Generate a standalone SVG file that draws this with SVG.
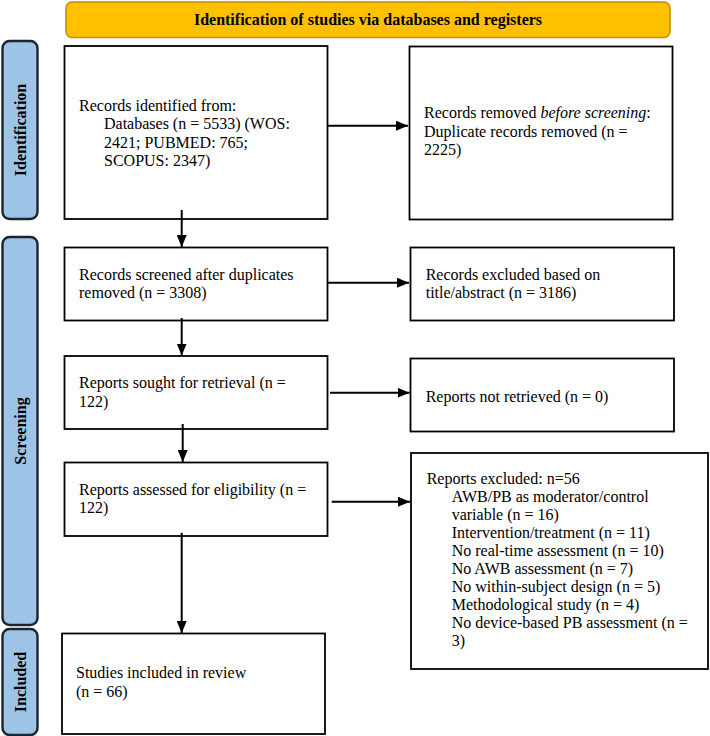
<svg xmlns="http://www.w3.org/2000/svg" width="710" height="736" viewBox="0 0 710 736">
<defs>
<marker id="ah" markerWidth="12" markerHeight="10" refX="12" refY="5" orient="auto" markerUnits="userSpaceOnUse">
<path d="M0,0 L12,5 L0,10 Z" fill="#000"/>
</marker>
<style>
.box{fill:#fff;stroke:#000;stroke-width:1.8}
.side{fill:#9DC3E6;stroke:#1c2430;stroke-width:2.4}
.hdr{fill:#FFC000;stroke:#C09000;stroke-width:1.5}
.t{font-family:"Liberation Serif","Times New Roman",serif;font-size:16px;fill:#000}
.b{font-family:"Liberation Serif","Times New Roman",serif;font-size:16px;font-weight:bold;fill:#000}
.c{stroke:#000;stroke-width:2;fill:none}
</style>
</defs>
<rect width="710" height="736" fill="#fff"/>
<g id="header">
<rect class="hdr" x="66" y="2" width="604" height="35.5" rx="6"/>
<text class="b" x="368" y="25" text-anchor="middle">Identification of studies via databases and registers</text>
</g>
<g id="side-identification">
<rect class="side" x="2.5" y="41" width="35" height="178" rx="7"/>
<text class="b" transform="translate(25.5,130) rotate(-90)" text-anchor="middle">Identification</text>
</g>
<g id="side-screening">
<rect class="side" x="2.5" y="237" width="35" height="388" rx="7"/>
<text class="b" transform="translate(25.5,431) rotate(-90)" text-anchor="middle">Screening</text>
</g>
<g id="side-included">
<rect class="side" x="2.5" y="629" width="35" height="106" rx="7"/>
<text class="b" transform="translate(25.5,682) rotate(-90)" text-anchor="middle">Included</text>
</g>
<g id="records-identified">
<rect class="box" x="64.5" y="46" width="263" height="173"/>
<text class="t" x="79" y="111">Records identified from:</text>
<text class="t" x="104" y="129.3">Databases (n = 5533) (WOS:</text>
<text class="t" x="104" y="147.6">2421; PUBMED: 765;</text>
<text class="t" x="104" y="166">SCOPUS: 2347)</text>
</g>
<g id="records-removed">
<rect class="box" x="409.5" y="46.5" width="263" height="173"/>
<text class="t" x="424" y="118.3">Records removed <tspan font-style="italic">before screening</tspan>:</text>
<text class="t" x="424" y="136.7">Duplicate records removed (n =</text>
<text class="t" x="424" y="155">2225)</text>
</g>
<g id="records-screened">
<rect class="box" x="64.5" y="247.5" width="263" height="73"/>
<text class="t" x="79" y="280">Records screened after duplicates</text>
<text class="t" x="79" y="298.3">removed (n = 3308)</text>
</g>
<g id="records-excluded">
<rect class="box" x="410.5" y="247.5" width="263.5" height="73"/>
<text class="t" x="425.7" y="280">Records excluded based on</text>
<text class="t" x="425.7" y="298.3">title/abstract (n = 3186)</text>
</g>
<g id="reports-sought">
<rect class="box" x="64.5" y="356" width="263" height="73"/>
<text class="t" x="79" y="388.3">Reports sought for retrieval (n =</text>
<text class="t" x="79" y="406.7">122)</text>
</g>
<g id="reports-not-retrieved">
<rect class="box" x="410.5" y="358.5" width="263.5" height="73"/>
<text class="t" x="425.7" y="401.7">Reports not retrieved (n = 0)</text>
</g>
<g id="reports-assessed">
<rect class="box" x="64.5" y="462.5" width="263" height="73.5"/>
<text class="t" x="79" y="495">Reports assessed for eligibility (n =</text>
<text class="t" x="79" y="513.3">122)</text>
</g>
<g id="reports-excluded">
<rect class="box" x="411" y="453" width="297" height="216"/>
<text class="t" x="426.7" y="484">Reports excluded: n=56</text>
<text class="t" x="451.7" y="502">AWB/PB as moderator/control</text>
<text class="t" x="451.7" y="520">variable (n = 16)</text>
<text class="t" x="451.7" y="538">Intervention/treatment (n = 11)</text>
<text class="t" x="451.7" y="556">No real-time assessment (n = 10)</text>
<text class="t" x="451.7" y="574">No AWB assessment (n = 7)</text>
<text class="t" x="451.7" y="592">No within-subject design (n = 5)</text>
<text class="t" x="451.7" y="610">Methodological study (n = 4)</text>
<text class="t" x="451.7" y="628">No device-based PB assessment (n =</text>
<text class="t" x="451.7" y="646">3)</text>
</g>
<g id="studies-included">
<rect class="box" x="62" y="633.5" width="263" height="100.5"/>
<text class="t" x="76" y="678.3">Studies included in review</text>
<text class="t" x="76" y="696.7">(n = 66)</text>
</g>
<g id="connectors">
<line class="c" x1="328" y1="125.7" x2="408" y2="125.7" marker-end="url(#ah)"/>
<line class="c" x1="181.7" y1="210" x2="181.7" y2="247" marker-end="url(#ah)"/>
<line class="c" x1="328" y1="282.7" x2="409" y2="282.7" marker-end="url(#ah)"/>
<line class="c" x1="181.7" y1="318" x2="181.7" y2="355.5" marker-end="url(#ah)"/>
<line class="c" x1="330" y1="392.7" x2="409.5" y2="392.7" marker-end="url(#ah)"/>
<line class="c" x1="182.7" y1="424" x2="182.7" y2="462" marker-end="url(#ah)"/>
<line class="c" x1="331.7" y1="501.7" x2="410" y2="501.7" marker-end="url(#ah)"/>
<line class="c" x1="181.7" y1="532.7" x2="181.7" y2="633" marker-end="url(#ah)"/>
</g>
</svg>
